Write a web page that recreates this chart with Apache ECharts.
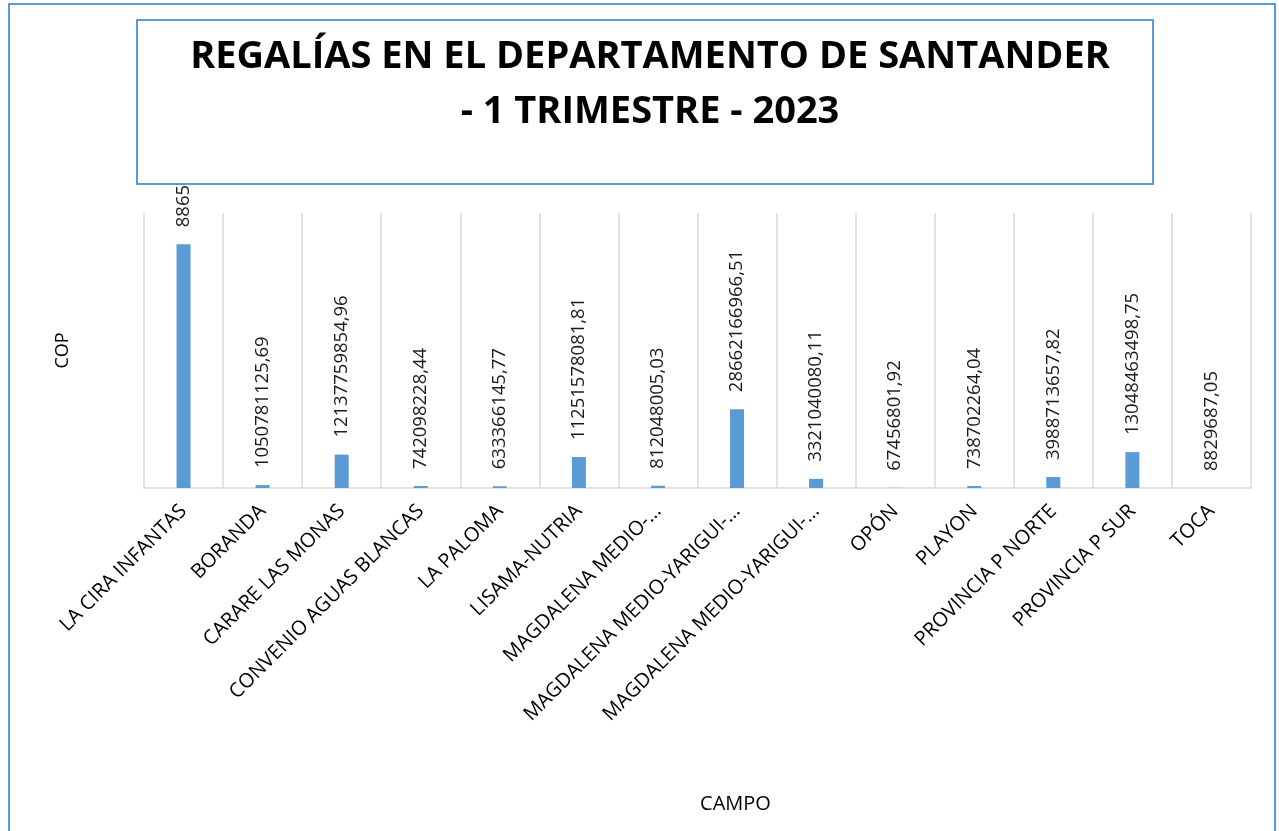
<!DOCTYPE html>
<html>
<head>
<meta charset="utf-8">
<script src="https://cdn.jsdelivr.net/npm/echarts@6/dist/echarts.min.js"></script>
<style>
  html, body { margin: 0; padding: 0; background: #fff; }
  #chart { width: 1279px; height: 831px; }
</style>
</head>
<body>
<div id="chart"></div>
<script>
const campos = [
  'LA CIRA INFANTAS', 'BORANDA', 'CARARE LAS MONAS', 'CONVENIO AGUAS BLANCAS',
  'LA PALOMA', 'LISAMA-NUTRIA', 'MAGDALENA MEDIO-…', 'MAGDALENA MEDIO-YARIGUI-…',
  'MAGDALENA MEDIO-YARIGUI-…', 'OPÓN', 'PLAYON', 'PROVINCIA P NORTE',
  'PROVINCIA P SUR', 'TOCA'
];
// COP; el primer valor está tapado por el título, estimado por la altura de la barra
const regalias = [
  88650000000, 1050781125.69, 12137759854.96, 742098228.44,
  633366145.77, 11251578081.81, 812048005.03, 28662166966.51,
  3321040080.11, 67456801.92, 738702264.04, 3988713657.82,
  13048463498.75, 8829687.05
];

const azul = '#5B9BD5';
const gris = '#D9D9D9';
const fuente = "'Open Sans', sans-serif";

const chart = echarts.init(document.getElementById('chart'), null, { renderer: 'canvas' });

const option = {
  animation: false,
  title: {
    text: 'REGALÍAS EN EL DEPARTAMENTO DE SANTANDER\n- 1 TRIMESTRE - 2023',
    left: 645,
    top: 25,
    textAlign: 'center',
    z: 200,
    textStyle: {
      fontFamily: fuente,
      fontWeight: 'bold',
      fontSize: 38,
      lineHeight: 55,
      color: '#000'
    }
  },
  graphic: [
    {
      type: 'rect',
      z: 100,
      shape: { x: 9, y: 4, width: 1266, height: 900 },
      style: { fill: 'none', stroke: azul, lineWidth: 2 }
    },
    {
      type: 'rect',
      z: 100,
      shape: { x: 137, y: 20, width: 1016, height: 164 },
      style: { fill: '#fff', stroke: azul, lineWidth: 2 }
    }
  ],
  grid: { left: 144, right: 28, top: 213, bottom: 343 },
  xAxis: {
    type: 'category',
    data: campos,
    name: 'CAMPO',
    nameLocation: 'middle',
    nameGap: 306,
    nameTextStyle: { fontFamily: fuente, fontSize: 20, color: '#000', padding: [0, 0, 0, 76] },
    axisLine: { lineStyle: { color: gris, width: 1.5 } },
    axisTick: { show: false },
    splitLine: { show: true, interval: 0, lineStyle: { color: gris, width: 1.5 } },
    axisLabel: {
      interval: 0,
      rotate: 45,
      margin: 20,
      fontFamily: fuente,
      fontSize: 20,
      color: '#000'
    }
  },
  yAxis: {
    type: 'value',
    min: 0,
    max: 100000000000,
    name: 'COP',
    nameLocation: 'middle',
    nameGap: 72,
    nameRotate: 90,
    nameTextStyle: { fontFamily: fuente, fontSize: 18, color: '#000' },
    axisLine: { show: false },
    axisTick: { show: false },
    axisLabel: { show: false },
    splitLine: { show: false }
  },
  series: [
    {
      name: 'Regalías',
      type: 'bar',
      data: regalias,
      barWidth: 14,
      itemStyle: { color: azul },
      label: {
        show: true,
        position: 'top',
        rotate: 90,
        align: 'left',
        verticalAlign: 'middle',
        distance: 17,
        fontFamily: fuente,
        fontSize: 18.5,
        color: '#1a1a1a',
        formatter: p => p.value.toFixed(2).replace('.', ',')
      }
    }
  ]
};

chart.setOption(option);
</script>
</body>
</html>
